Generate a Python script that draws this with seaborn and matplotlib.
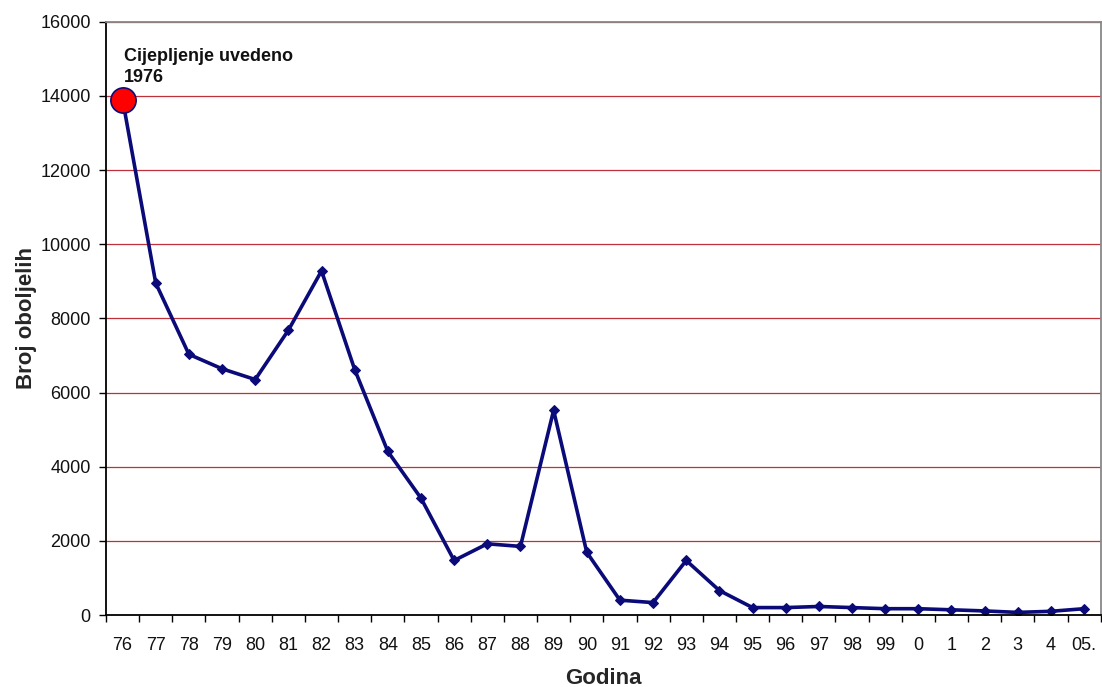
import matplotlib
matplotlib.use("Agg")
import numpy as np
import pandas as pd
import seaborn as sns
import matplotlib.pyplot as plt
from matplotlib.ticker import FixedLocator

years = ["76", "77", "78", "79", "80", "81", "82", "83", "84", "85",
         "86", "87", "88", "89", "90", "91", "92", "93", "94", "95",
         "96", "97", "98", "99", "0", "1", "2", "3", "4", "05."]
cases = [13900, 8950, 7030, 6640, 6350, 7680, 9280, 6620, 4410, 3150,
         1470, 1920, 1850, 5520, 1690, 400, 335, 1470, 660, 200,
         200, 230, 200, 170, 170, 140, 110, 70, 100, 170]
yticks = [0, 2000, 4000, 6000, 8000, 10000, 12000, 14000, 16000]

df = pd.DataFrame({"Godina": years, "Broj": cases})

sns.set_theme(style="white")
plt.rcParams["font.family"] = ["Liberation Sans", "DejaVu Sans"]

fig = plt.figure(figsize=(11.02, 6.87), dpi=100)
ax = fig.add_axes([0.0962, 0.1048, 0.9026, 0.8636])

navy = "#0a0a78"
sns.lineplot(data=df, x="Godina", y="Broj", ax=ax, color=navy, lw=2.6,
             marker="D", markersize=5, markeredgecolor=navy, sort=False)
# first year highlighted
sns.scatterplot(data=df.iloc[:1], x="Godina", y="Broj", ax=ax, s=330,
                color="#ff0000", edgecolor=navy, linewidth=1.2, zorder=5)

ax.set_ylim(0, 16000)
ax.set_xlim(-0.5, len(years) - 0.5)
ax.set_yticks(yticks)
ax.set_yticklabels([str(v) for v in yticks])
for v in yticks[1:]:
    ax.axhline(v, color="#c0303a", lw=0.9, zorder=0)

ax.set_xticks(range(len(years)))
ax.set_xticklabels(years)
ax.xaxis.set_minor_locator(FixedLocator(np.arange(-0.5, len(years), 1.0)))
ax.tick_params(axis="x", which="major", length=0, pad=16, labelsize=13, colors="#111111")
ax.tick_params(axis="x", which="minor", length=5, width=1, color="black", direction="out", bottom=True)
ax.tick_params(axis="y", length=5, width=1, color="black", direction="out", left=True,
               labelsize=13, pad=6, labelcolor="#111111")

for side in ["left", "bottom"]:
    ax.spines[side].set_color("black")
    ax.spines[side].set_linewidth(1.3)
for side in ["top", "right"]:
    ax.spines[side].set_color("#888888")
    ax.spines[side].set_linewidth(1.3)

ax.set_xlabel("Godina", fontsize=16, fontweight="bold", labelpad=10)
ax.set_ylabel("Broj oboljelih", fontsize=16, fontweight="bold", labelpad=2)

ax.text(0.03, 15300, "Cijepljenje uvedeno\n1976", fontsize=13, fontweight="bold",
        va="top", ha="left", linespacing=1.3, color="#111111")

fig.savefig("out.png", dpi=100, facecolor="white")
